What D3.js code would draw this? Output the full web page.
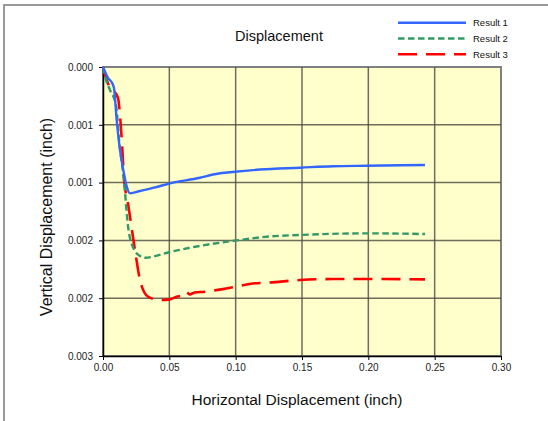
<!DOCTYPE html>
<html>
<head>
<meta charset="utf-8">
<script src="https://cdn.jsdelivr.net/npm/d3@7"></script>
<style>
  html, body { margin: 0; padding: 0; background: #fff; }
  svg { display: block; font-family: "Liberation Sans", Arial, sans-serif; }
</style>
</head>
<body>
<script>
// Horizontal displacement (inch)
const result1X = [0, 0.0040, 0.0070, 0.0083, 0.0103, 0.0128, 0.0153, 0.0179, 0.0204, 0.0279, 0.0392, 0.0505, 0.0731, 0.0829, 0.0995, 0.1183, 0.1485, 0.1734, 0.1988, 0.2427];
// Vertical displacement (inch), positive downward
const result1Y = [0, 0.000098, 0.000141, 0.000184, 0.000458, 0.000718, 0.000891, 0.001035, 0.001093, 0.001073, 0.001042, 0.001006, 0.000958, 0.000930, 0.000906, 0.000887, 0.000871, 0.000858, 0.000854, 0.000848];

const result2X = [0, 0.0023, 0.0053, 0.0098, 0.0121, 0.0158, 0.0188, 0.0226, 0.0279, 0.0317, 0.0505, 0.0694, 0.1008, 0.1234, 0.1485, 0.1988, 0.2427];
const result2Y = [0, 0.000112, 0.000200, 0.000330, 0.000630, 0.000980, 0.001370, 0.001560, 0.001635, 0.001650, 0.001600, 0.001555, 0.001500, 0.001468, 0.001453, 0.001439, 0.001445];

const result3X = [0, 0.0023, 0.0053, 0.0083, 0.0113, 0.0128, 0.0143, 0.0158, 0.0188, 0.0241, 0.0279, 0.0339, 0.0430, 0.0505, 0.0560, 0.0593, 0.0626, 0.0656, 0.0690, 0.0769, 0.0942, 0.1146, 0.1234, 0.1485, 0.1734, 0.1988, 0.2427];
const result3Y = [0, 0.000095, 0.000180, 0.000208, 0.000268, 0.000415, 0.000657, 0.000960, 0.001176, 0.001583, 0.001843, 0.001987, 0.002016, 0.002010, 0.001985, 0.001980, 0.001946, 0.001968, 0.001950, 0.001944, 0.001914, 0.001871, 0.001866, 0.001843, 0.001834, 0.001834, 0.001837];

const seriesNames = ["Result 1", "Result 2", "Result 3"];

const xTicks = [0, 0.05, 0.10, 0.15, 0.20, 0.25, 0.30];
const xTickLabels = ["0.00", "0.05", "0.10", "0.15", "0.20", "0.25", "0.30"];
const yTicks = [0, 0.0005, 0.0010, 0.0015, 0.0020, 0.0025];
const yTickLabels = ["0.000", "0.001", "0.001", "0.002", "0.002", "0.003"];

const W = 548, H = 421;
const plot = { left: 103, top: 67, right: 501, bottom: 356 };

const svg = d3.select("body").append("svg")
  .attr("width", W).attr("height", H);

// outer chart frame
svg.append("rect")
  .attr("x", 4).attr("y", 5)
  .attr("width", W + 20).attr("height", H + 20)
  .attr("fill", "#fff").attr("stroke", "#808080").attr("stroke-width", 1.6);

const x = d3.scaleLinear().domain([0, 0.30]).range([plot.left, plot.right]);
const y = d3.scaleLinear().domain([0, 0.0025]).range([plot.top, plot.bottom]);

// plot area
svg.append("rect")
  .attr("x", plot.left).attr("y", plot.top)
  .attr("width", plot.right - plot.left).attr("height", plot.bottom - plot.top)
  .attr("fill", "#FFFFCC").attr("stroke", "#808080").attr("stroke-width", 2);

// grid
const grid = svg.append("g").attr("stroke", "#4a4a40").attr("stroke-width", 1.5).attr("stroke-opacity", 0.8);
grid.selectAll("line.gx").data(xTicks.slice(1, -1)).join("line")
  .attr("x1", d => x(d)).attr("x2", d => x(d))
  .attr("y1", plot.top).attr("y2", plot.bottom);
grid.selectAll("line.gy").data(yTicks.slice(1, -1)).join("line")
  .attr("x1", plot.left).attr("x2", plot.right)
  .attr("y1", d => y(d)).attr("y2", d => y(d));

// axes
const xAxis = d3.axisBottom(x).tickValues(xTicks)
  .tickFormat((d, i) => xTickLabels[i]).tickSize(4).tickSizeOuter(0).tickPadding(4);
const yAxis = d3.axisLeft(y).tickValues(yTicks)
  .tickFormat((d, i) => yTickLabels[i]).tickSize(4).tickSizeOuter(0).tickPadding(6);

const gx = svg.append("g").attr("transform", `translate(0,${plot.bottom})`).call(xAxis);
const gy = svg.append("g").attr("transform", `translate(${plot.left},0)`).call(yAxis);
[gx, gy].forEach(g => {
  g.select(".domain").attr("stroke", "#000").attr("stroke-width", 1.5);
  g.selectAll(".tick line").attr("stroke", "#000");
  g.selectAll(".tick text").attr("fill", "#222")
    .style("font-family", "'Liberation Sans', Arial, sans-serif").style("font-size", "10px");
});

// series
const series = [
  { name: seriesNames[0], xs: result1X, ys: result1Y, color: "#3366FF", dash: null, width: 2.4 },
  { name: seriesNames[1], xs: result2X, ys: result2Y, color: "#339966", dash: "6.5,3.5", width: 2.4 },
  { name: seriesNames[2], xs: result3X, ys: result3Y, color: "#FF0000", dash: "19,9", width: 2.6 }
];

const line = d3.line().x(d => x(d[0])).y(d => y(d[1])).curve(d3.curveMonotoneX);

svg.append("g").selectAll("path").data(series.slice().reverse()).join("path")
  .attr("d", s => line(s.xs.map((v, i) => [v, s.ys[i]])))
  .attr("fill", "none")
  .attr("stroke", s => s.color)
  .attr("stroke-width", s => s.width)
  .attr("stroke-dasharray", s => s.dash);

// title
svg.append("text").attr("x", 279).attr("y", 41).attr("text-anchor", "middle")
  .style("font-size", "14.5px").attr("fill", "#111").text("Displacement");

// axis titles
svg.append("text").attr("x", 297).attr("y", 405).attr("text-anchor", "middle")
  .style("font-size", "15.5px").attr("fill", "#111").text("Horizontal Displacement (inch)");
svg.append("text").attr("transform", "translate(52,217) rotate(-90)").attr("text-anchor", "middle")
  .style("font-size", "16px").attr("fill", "#111").text("Vertical Displacement (inch)");

// legend
const legend = svg.append("g");
series.forEach((s, i) => {
  const ly = 22.7 + i * 15.8;
  legend.append("line").attr("x1", 398).attr("x2", 466).attr("y1", ly).attr("y2", ly)
    .attr("stroke", s.color).attr("stroke-width", s.width).attr("stroke-dasharray", s.dash);
  legend.append("text").attr("x", 473).attr("y", ly + 3.5)
    .style("font-size", "9.5px").attr("fill", "#111").text(s.name);
});
</script>
</body>
</html>
